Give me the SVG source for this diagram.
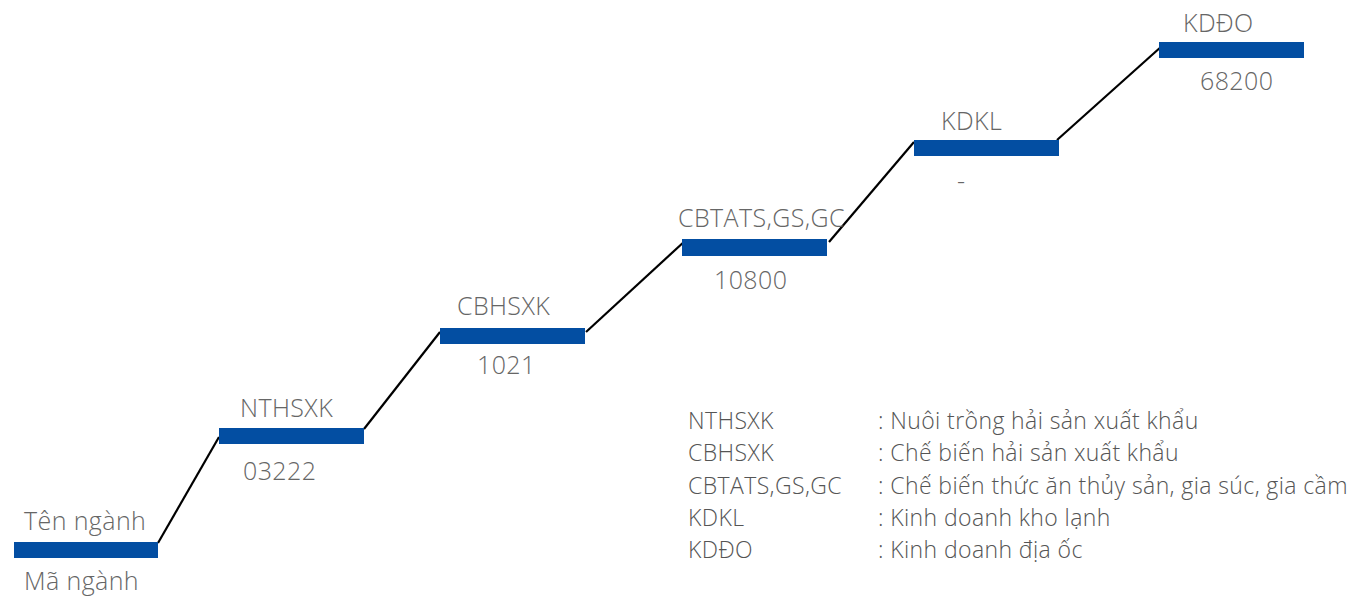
<svg xmlns="http://www.w3.org/2000/svg" width="1353" height="605" viewBox="0 0 1353 605">
<style>
.bar{fill:#034ea2}
.t{font-family:"Open Sans","Noto Sans","Liberation Sans",sans-serif;font-weight:300;fill:#666;font-size:25px;letter-spacing:0.4px}
.l{font-family:"Open Sans","Noto Sans","Liberation Sans",sans-serif;font-weight:300;fill:#555;font-size:23px;letter-spacing:0.4px}
.c{stroke:#000;stroke-width:2.2;fill:none}
</style>
<rect width="1353" height="605" fill="#fff"/>
<g id="connectors">
<line class="c" x1="158" y1="543" x2="219" y2="437"/>
<line class="c" x1="364" y1="429" x2="440" y2="332"/>
<line class="c" x1="586" y1="332" x2="686" y2="240"/>
<line class="c" x1="829" y1="242" x2="914" y2="142"/>
<line class="c" x1="1057" y1="140" x2="1162" y2="46"/>
</g>
<g id="node-legend-key">
<rect class="bar" x="14" y="542" width="144" height="16"/>
<text class="t" x="24" y="530">Tên ngành</text>
<text class="t" x="24" y="590">Mã ngành</text>
</g>
<g id="node-nthsxk">
<rect class="bar" x="219" y="428" width="145" height="16"/>
<text class="t" x="240" y="417">NTHSXK</text>
<text class="t" x="243" y="480">03222</text>
</g>
<g id="node-cbhsxk">
<rect class="bar" x="440" y="328" width="145" height="16"/>
<text class="t" x="457" y="315">CBHSXK</text>
<text class="t" x="477" y="374">1021</text>
</g>
<g id="node-cbtats">
<rect class="bar" x="682" y="239" width="145" height="17"/>
<text class="t" x="678" y="227">CBTATS,GS,GC</text>
<text class="t" x="714" y="289">10800</text>
</g>
<g id="node-kdkl">
<rect class="bar" x="914" y="140" width="145" height="16"/>
<text class="t" x="941" y="130">KDKL</text>
<text class="t" x="957" y="190">-</text>
</g>
<g id="node-kddo">
<rect class="bar" x="1159" y="42" width="145" height="16"/>
<text class="t" x="1183" y="32">KDĐO</text>
<text class="t" x="1200" y="90">68200</text>
</g>
<g id="legend">
<text class="l" x="688" y="429">NTHSXK</text>
<text class="l" x="878" y="429">: Nuôi trồng hải sản xuất khẩu</text>
<text class="l" x="688" y="461">CBHSXK</text>
<text class="l" x="878" y="461">: Chế biến hải sản xuất khẩu</text>
<text class="l" x="688" y="494">CBTATS,GS,GC</text>
<text class="l" x="878" y="494">: Chế biến thức ăn thủy sản, gia súc, gia cầm</text>
<text class="l" x="688" y="526">KDKL</text>
<text class="l" x="878" y="526">: Kinh doanh kho lạnh</text>
<text class="l" x="688" y="558">KDĐO</text>
<text class="l" x="878" y="558">: Kinh doanh địa ốc</text>
</g>
</svg>
